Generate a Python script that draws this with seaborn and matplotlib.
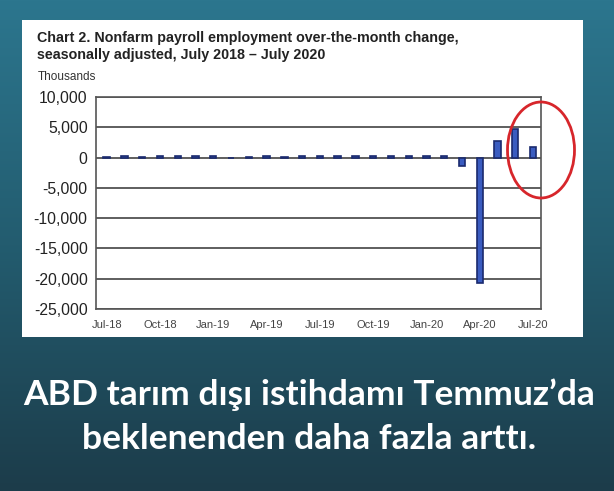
import numpy as np
import matplotlib
matplotlib.use("Agg")
import matplotlib.pyplot as plt
import seaborn as sns
from matplotlib.patches import Rectangle, Ellipse
from matplotlib.colors import LinearSegmentedColormap

# monthly change in nonfarm payrolls, thousands
months = ["Jul-18", "Aug-18", "Sep-18", "Oct-18", "Nov-18", "Dec-18",
          "Jan-19", "Feb-19", "Mar-19", "Apr-19", "May-19", "Jun-19",
          "Jul-19", "Aug-19", "Sep-19", "Oct-19", "Nov-19", "Dec-19",
          "Jan-20", "Feb-20", "Mar-20", "Apr-20", "May-20", "Jun-20",
          "Jul-20"]
change = [160, 268, 130, 195, 207, 233,
          269, 1, 147, 210, 85, 182,
          194, 207, 208, 185, 261, 184,
          214, 251, -1373, -20787, 2725, 4781,
          1763]
tick_months = ["Jul-18", "Oct-18", "Jan-19", "Apr-19", "Jul-19",
               "Oct-19", "Jan-20", "Apr-20", "Jul-20"]
y_ticks = [10000, 5000, 0, -5000, -10000, -15000, -20000, -25000]

title_1 = "Chart 2. Nonfarm payroll employment over-the-month change,"
title_2 = "seasonally adjusted, July 2018 \u2013 July 2020"
caption_1 = "ABD tarım dışı istihdamı Temmuz’da"
caption_2 = "beklenenden daha fazla arttı."

sns.set_style("white")
plt.rcParams["font.family"] = ["Liberation Sans", "DejaVu Sans"]

fig = plt.figure(figsize=(6.14, 4.91), dpi=100)

# background, white panel and texts in pixel coords
bg = fig.add_axes([0, 0, 1, 1])
bg.set_xlim(0, 614)
bg.set_ylim(491, 0)
bg.axis("off")
cmap = LinearSegmentedColormap.from_list(
    "bg", ["#2c768e", "#235c6f", "#1c3c4a"])
grad = np.linspace(0, 1, 256).reshape(-1, 1)
bg.imshow(grad, cmap=cmap, extent=[0, 614, 491, 0], aspect="auto")
bg.add_patch(Rectangle((22, 20), 561, 317, facecolor="white",
                       edgecolor="none"))
bg.text(37, 38, title_1, fontsize=10.3, fontweight="bold", color="#222222",
        va="center", ha="left")
bg.text(37, 55, title_2, fontsize=10.3, fontweight="bold", color="#222222",
        va="center", ha="left")
bg.text(38, 77, "Thousands", fontsize=8.5, color="#333333",
        va="center", ha="left")
for txt, y in [(caption_1, 395), (caption_2, 439)]:
    bg.text(309, y, txt, fontsize=25.5, fontweight="bold", color="white",
            family=["Lato", "DejaVu Sans"], ha="center", va="center")

# the bar chart
ax = fig.add_axes([0.1564, 0.3707, 0.7248, 0.4318])
sns.barplot(x=months, y=change, color="#3a5cc0", saturation=1,
            width=0.36, edgecolor="#1a2a6e", linewidth=1.2, ax=ax)
ax.set_xlim(-0.6, 24.45)
ax.set_ylim(-25000, 10000)
ax.set_yticks(y_ticks)
ax.set_yticklabels([f"{v:,}" for v in y_ticks], fontsize=11.3,
                   color="#222222")
ax.set_xticks([months.index(m) for m in tick_months])
ax.set_xticklabels(tick_months, fontsize=8, color="#444444")
ax.tick_params(length=0, axis="y", pad=6)
ax.tick_params(length=0, axis="x", pad=8)
ax.yaxis.grid(True, color="#333333", linewidth=1.1)
ax.set_axisbelow(True)
ax.set_xlabel("")
ax.set_ylabel("")
for s in ax.spines.values():
    s.set_visible(True)
    s.set_color("#555555")
    s.set_linewidth(1.2)

# red ring around the last months
ov = fig.add_axes([0, 0, 1, 1])
ov.set_xlim(0, 614)
ov.set_ylim(491, 0)
ov.axis("off")
ov.add_patch(Ellipse((541, 150), 67, 96, fill=False,
                     edgecolor="#d7262b", linewidth=2))

fig.savefig("out.png", dpi=100)
